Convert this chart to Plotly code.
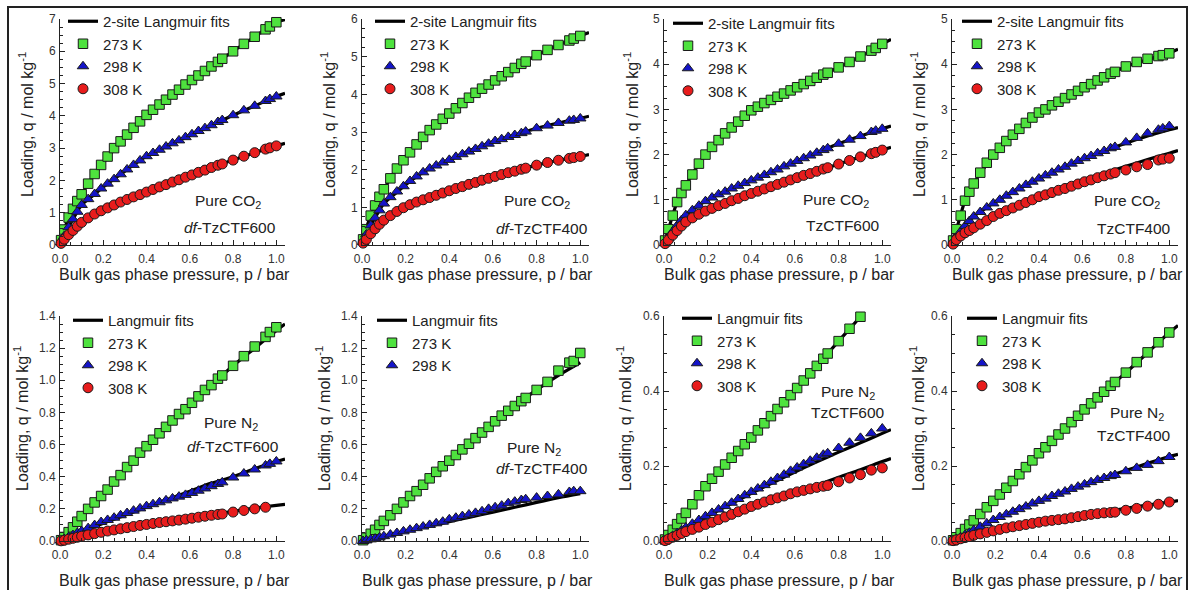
import plotly.graph_objects as go

W, H = 1194, 590
FONT = "Liberation Sans, Arial, sans-serif"

# ---------------- data ----------------
P = [0.005, 0.02, 0.04, 0.06, 0.08, 0.10, 0.13, 0.16, 0.19, 0.22, 0.25, 0.28, 0.31, 0.34, 0.37,
     0.40, 0.43, 0.46, 0.49, 0.52, 0.55, 0.58, 0.61, 0.64, 0.67, 0.70, 0.73, 0.75, 0.80, 0.85,
     0.90, 0.95, 0.97, 1.00]

FX_CO2 = [0, 0.01, 0.03, 0.06, 0.1, 0.15, 0.2, 0.3, 0.4, 0.5, 0.6, 0.7, 0.8, 0.9, 1.0, 1.04]
FX_N2 = [0, 0.1, 0.2, 0.3, 0.4, 0.5, 0.6, 0.7, 0.8, 0.9, 1.0, 1.04]
FX_N2_b = [0, 0.1, 0.2, 0.3, 0.4, 0.5, 0.6, 0.7, 0.8, 0.9, 1.0]
FX_N2_c = [0, 0.1, 0.2, 0.3, 0.4, 0.5, 0.6, 0.7, 0.8, 0.9, 0.92]

# Panel 1: CO2, df-TzCTF600
q1_273 = [0.15, 0.48, 0.85, 1.12, 1.36, 1.57, 1.9, 2.2, 2.48, 2.74, 3.0, 3.21, 3.42, 3.63, 3.83, 4.03, 4.19,
          4.35, 4.5, 4.66, 4.81, 4.97, 5.11, 5.25, 5.39, 5.53, 5.67, 5.77, 6.0, 6.23, 6.45, 6.68, 6.77, 6.9]
q1_298 = [0.08, 0.28, 0.55, 0.8, 1.03, 1.24, 1.42, 1.58, 1.75, 1.9, 2.04, 2.19, 2.34, 2.48, 2.62, 2.75, 2.85,
          2.95, 3.05, 3.15, 3.24, 3.34, 3.43, 3.53, 3.62, 3.71, 3.81, 3.87, 4.02, 4.17, 4.31, 4.46, 4.52, 4.6]
q1_308 = [0.05, 0.18, 0.32, 0.45, 0.58, 0.7, 0.84, 0.96, 1.06, 1.15, 1.24, 1.33, 1.41, 1.49, 1.56, 1.64, 1.72,
          1.8, 1.87, 1.95, 2.02, 2.1, 2.17, 2.25, 2.32, 2.4, 2.47, 2.51, 2.63, 2.75, 2.86, 2.97, 3.01, 3.07]
f1_273 = [0, 0.26, 0.67, 1.12, 1.57, 2.1, 2.55, 3.35, 4.03, 4.55, 5.06, 5.53, 6.0, 6.45, 6.9, 6.98]
f1_298 = [0, 0.14, 0.42, 0.8, 1.24, 1.52, 1.8, 2.29, 2.75, 3.08, 3.4, 3.71, 4.02, 4.31, 4.6, 4.7]
f1_308 = [0, 0.09, 0.26, 0.45, 0.7, 0.9, 1.1, 1.38, 1.64, 1.9, 2.15, 2.4, 2.63, 2.86, 3.07, 3.15]

# Panel 2: CO2, df-TzCTF400
q2_273 = [0.15, 0.42, 0.78, 1.05, 1.28, 1.48, 1.77, 2.03, 2.25, 2.46, 2.67, 2.87, 3.05, 3.2, 3.35, 3.49, 3.63,
          3.77, 3.91, 4.04, 4.15, 4.26, 4.37, 4.48, 4.59, 4.7, 4.81, 4.87, 5.04, 5.18, 5.31, 5.43, 5.48, 5.55]
q2_298 = [0.08, 0.28, 0.52, 0.72, 0.92, 1.1, 1.27, 1.42, 1.56, 1.7, 1.82, 1.93, 2.03, 2.11, 2.19, 2.26, 2.34,
          2.41, 2.48, 2.55, 2.62, 2.69, 2.76, 2.81, 2.87, 2.92, 2.97, 3.01, 3.1, 3.17, 3.24, 3.3, 3.32, 3.36]
q2_308 = [0.05, 0.15, 0.3, 0.43, 0.55, 0.66, 0.78, 0.89, 0.99, 1.07, 1.14, 1.2, 1.26, 1.32, 1.38, 1.44, 1.5,
          1.55, 1.61, 1.66, 1.72, 1.77, 1.82, 1.87, 1.92, 1.96, 2.01, 2.04, 2.12, 2.19, 2.25, 2.3, 2.32, 2.35]
f2_273 = [0, 0.25, 0.62, 1.05, 1.48, 1.95, 2.35, 3.0, 3.49, 3.98, 4.34, 4.7, 5.04, 5.31, 5.55, 5.64]
f2_298 = [0, 0.15, 0.42, 0.72, 1.1, 1.35, 1.6, 2.0, 2.26, 2.52, 2.74, 2.92, 3.1, 3.24, 3.36, 3.42]
f2_308 = [0, 0.08, 0.24, 0.43, 0.66, 0.85, 1.03, 1.24, 1.44, 1.63, 1.81, 1.96, 2.12, 2.25, 2.35, 2.4]

# Panel 3: CO2, TzCTF600
q3_273 = [0.1, 0.35, 0.65, 0.95, 1.15, 1.32, 1.56, 1.8, 2.0, 2.17, 2.32, 2.47, 2.6, 2.73, 2.86, 2.98, 3.06,
          3.14, 3.21, 3.28, 3.35, 3.42, 3.49, 3.56, 3.63, 3.7, 3.77, 3.81, 3.93, 4.05, 4.17, 4.3, 4.36, 4.45]
q3_298 = [0.04, 0.15, 0.3, 0.43, 0.55, 0.66, 0.77, 0.87, 0.97, 1.05, 1.12, 1.18, 1.25, 1.31, 1.37, 1.43, 1.49,
          1.55, 1.61, 1.67, 1.74, 1.8, 1.86, 1.92, 1.98, 2.04, 2.1, 2.14, 2.24, 2.33, 2.41, 2.5, 2.53, 2.57]
q3_308 = [0.03, 0.11, 0.22, 0.32, 0.42, 0.51, 0.6, 0.68, 0.75, 0.81, 0.87, 0.92, 0.98, 1.03, 1.09, 1.14, 1.19,
          1.24, 1.29, 1.34, 1.39, 1.44, 1.49, 1.54, 1.58, 1.63, 1.68, 1.71, 1.79, 1.87, 1.95, 2.02, 2.05, 2.1]
f3_273 = [0, 0.18, 0.5, 0.95, 1.32, 1.72, 2.05, 2.55, 2.98, 3.23, 3.46, 3.7, 3.93, 4.17, 4.45, 4.55]
f3_298 = [0, 0.08, 0.23, 0.43, 0.66, 0.85, 1.0, 1.23, 1.43, 1.64, 1.84, 2.04, 2.24, 2.41, 2.57, 2.63]
f3_308 = [0, 0.06, 0.17, 0.32, 0.51, 0.65, 0.77, 0.97, 1.14, 1.31, 1.47, 1.63, 1.79, 1.95, 2.1, 2.16]

# Panel 4: CO2, TzCTF400
q4_273 = [0.1, 0.35, 0.65, 0.98, 1.18, 1.36, 1.6, 1.82, 2.0, 2.15, 2.3, 2.44, 2.57, 2.7, 2.82, 2.93, 3.0,
          3.09, 3.17, 3.25, 3.33, 3.41, 3.49, 3.56, 3.64, 3.71, 3.79, 3.83, 3.95, 4.05, 4.12, 4.18, 4.2, 4.24]
q4_298 = [0.04, 0.15, 0.3, 0.42, 0.53, 0.63, 0.73, 0.83, 0.92, 1.0, 1.09, 1.17, 1.25, 1.33, 1.4, 1.47, 1.54,
          1.6, 1.67, 1.73, 1.8, 1.86, 1.92, 1.97, 2.03, 2.08, 2.14, 2.17, 2.27, 2.37, 2.47, 2.55, 2.58, 2.63]
q4_308 = [0.02, 0.12, 0.2, 0.27, 0.32, 0.38, 0.46, 0.54, 0.63, 0.7, 0.76, 0.82, 0.88, 0.94, 1.0, 1.07, 1.11,
          1.16, 1.21, 1.25, 1.3, 1.35, 1.4, 1.44, 1.49, 1.53, 1.57, 1.6, 1.66, 1.73, 1.78, 1.88, 1.9, 1.92]
f4_273 = [0, 0.18, 0.5, 0.98, 1.36, 1.72, 2.07, 2.55, 2.93, 3.22, 3.47, 3.71, 3.95, 4.1, 4.25, 4.33]
f4_298 = [0, 0.08, 0.23, 0.42, 0.63, 0.8, 0.96, 1.23, 1.47, 1.69, 1.9, 2.08, 2.25, 2.41, 2.55, 2.6]
f4_308 = [0, 0.05, 0.15, 0.28, 0.42, 0.55, 0.68, 0.9, 1.1, 1.28, 1.44, 1.59, 1.74, 1.89, 2.03, 2.09]

# Panel 5: N2, df-TzCTF600
q5_273 = [0.005, 0.025, 0.055, 0.085, 0.12, 0.155, 0.2, 0.24, 0.28, 0.32, 0.37, 0.41, 0.46, 0.5, 0.55, 0.59,
          0.63, 0.67, 0.71, 0.75, 0.79, 0.82, 0.86, 0.9, 0.94, 0.97, 1.01, 1.03, 1.09, 1.15, 1.21, 1.27, 1.3, 1.33]
q5_298 = [0.003, 0.012, 0.025, 0.037, 0.05, 0.062, 0.08, 0.099, 0.118, 0.131, 0.145, 0.16, 0.174, 0.189,
          0.203, 0.217, 0.229, 0.241, 0.253, 0.265, 0.276, 0.287, 0.299, 0.313, 0.327, 0.341, 0.355, 0.365,
          0.395, 0.42, 0.445, 0.47, 0.48, 0.495]
q5_308 = [0.001, 0.005, 0.011, 0.017, 0.023, 0.03, 0.038, 0.046, 0.054, 0.062, 0.069, 0.076, 0.083, 0.09,
          0.097, 0.103, 0.109, 0.115, 0.12, 0.125, 0.13, 0.136, 0.142, 0.148, 0.154, 0.16, 0.165, 0.168,
          0.18, 0.19, 0.2, 0.21, None, None]
f5_273 = [0, 0.15, 0.29, 0.44, 0.58, 0.72, 0.85, 0.97, 1.09, 1.2, 1.31, 1.35]
f5_298 = [0, 0.055, 0.11, 0.16, 0.21, 0.26, 0.31, 0.36, 0.4, 0.45, 0.495, 0.51]
f5_308 = [0, 0.025, 0.05, 0.075, 0.1, 0.12, 0.14, 0.165, 0.185, 0.205, 0.222, 0.228]

# Panel 6: N2, df-TzCTF400
q6_273 = [0.005, 0.02, 0.045, 0.07, 0.1, 0.125, 0.16, 0.2, 0.24, 0.28, 0.31, 0.35, 0.39, 0.43, 0.465, 0.5,
          0.535, 0.57, 0.605, 0.64, 0.675, 0.71, 0.745, 0.78, 0.81, 0.84, 0.87, 0.89, 0.94, 0.99, 1.06, 1.11,
          1.12, 1.17]
q6_298 = [0.0, 0.004, 0.01, 0.015, 0.022, 0.03, 0.04, 0.05, 0.06, 0.07, 0.08, 0.09, 0.1, 0.11, 0.12, 0.135,
          0.145, 0.155, 0.165, 0.175, 0.185, 0.2, 0.21, 0.22, 0.235, 0.245, 0.255, 0.26, 0.27, 0.28, 0.29,
          0.305, 0.31, 0.31]
f6_273 = [0, 0.12, 0.245, 0.37, 0.49, 0.61, 0.73, 0.84, 0.94, 1.03, 1.11]
f6_298 = [0, 0.03, 0.06, 0.09, 0.12, 0.15, 0.18, 0.21, 0.24, 0.27, 0.295]

# Panel 7: N2, TzCTF600
q7_273 = [0.004, 0.016, 0.03, 0.045, 0.06, 0.075, 0.098, 0.122, 0.146, 0.166, 0.185, 0.204, 0.222, 0.24,
          0.258, 0.276, 0.295, 0.314, 0.333, 0.352, 0.37, 0.389, 0.408, 0.428, 0.447, 0.467, 0.486, 0.5,
          0.533, 0.566, 0.598, None, None, None]
q7_298 = [0.002, 0.007, 0.014, 0.021, 0.028, 0.036, 0.046, 0.056, 0.066, 0.075, 0.084, 0.093, 0.102, 0.112,
          0.122, 0.131, 0.14, 0.149, 0.158, 0.168, 0.177, 0.187, 0.196, 0.205, 0.214, 0.222, 0.23, 0.234,
          0.248, 0.262, 0.275, 0.287, None, 0.3]
q7_308 = [0.001, 0.005, 0.01, 0.015, 0.02, 0.025, 0.031, 0.037, 0.044, 0.05, 0.057, 0.064, 0.071, 0.078,
          0.085, 0.092, 0.098, 0.104, 0.11, 0.115, 0.12, 0.126, 0.131, 0.135, 0.139, 0.143, 0.146, 0.148,
          0.158, 0.168, 0.177, 0.189, None, 0.195]
f7_273 = [0, 0.075, 0.152, 0.215, 0.276, 0.34, 0.402, 0.467, 0.533, 0.598, 0.612]
f7_298 = [0, 0.034, 0.066, 0.097, 0.127, 0.156, 0.184, 0.211, 0.237, 0.262, 0.287, 0.297]
f7_308 = [0, 0.021, 0.042, 0.063, 0.085, 0.106, 0.127, 0.148, 0.17, 0.19, 0.212, 0.22]

# Panel 8: N2, TzCTF400
q8_273 = [0.002, 0.01, 0.021, 0.032, 0.044, 0.055, 0.072, 0.09, 0.107, 0.124, 0.142, 0.16, 0.178, 0.197,
          0.215, 0.234, 0.25, 0.267, 0.284, 0.3, 0.317, 0.334, 0.351, 0.367, 0.383, 0.398, 0.414, 0.424,
          0.449, 0.477, 0.503, 0.53, None, 0.556]
q8_298 = [0.001, 0.005, 0.01, 0.016, 0.022, 0.029, 0.038, 0.047, 0.056, 0.064, 0.071, 0.078, 0.085, 0.092,
          0.1, 0.107, 0.113, 0.12, 0.126, 0.132, 0.139, 0.145, 0.151, 0.157, 0.163, 0.168, 0.173, 0.176,
          0.186, 0.195, 0.203, 0.213, None, 0.224]
q8_308 = [0.001, 0.003, 0.006, 0.009, 0.012, 0.015, 0.019, 0.023, 0.027, 0.031, 0.035, 0.038, 0.041, 0.044,
          0.047, 0.05, 0.053, 0.055, 0.057, 0.059, 0.062, 0.065, 0.068, 0.071, 0.073, 0.075, 0.076, 0.077,
          0.082, 0.087, 0.093, 0.098, None, 0.104]
f8_273 = [0, 0.055, 0.115, 0.176, 0.234, 0.29, 0.343, 0.398, 0.449, 0.502, 0.556, 0.575]
f8_298 = [0, 0.029, 0.058, 0.085, 0.107, 0.129, 0.15, 0.169, 0.188, 0.207, 0.225, 0.231]
f8_308 = [0, 0.014, 0.027, 0.039, 0.05, 0.06, 0.069, 0.078, 0.087, 0.096, 0.104, 0.108]

temps = ["273 K", "298 K", "308 K"]

# ---------------- styling ----------------
MARK = {
    "273 K": dict(symbol="square", size=9.5, color="#4ee23e", line=dict(color="#1a1a1a", width=1)),
    "298 K": dict(symbol="triangle-up", size=10, color="#1414c8", line=dict(color="#1a1a1a", width=1)),
    "308 K": dict(symbol="circle", size=10, color="#e81c1c", line=dict(color="#1a1a1a", width=1)),
}

def px_x(v):
    return v / W

def px_y(v):
    return 1 - v / H

COLS = [(60, 285), (362, 589), (664, 891), (952, 1178)]
ROWS = [(19, 245), (316, 541)]

panels = [
    dict(gas="CO<sub>2</sub>", mat="<i>df</i>-TzCTF600", ymax=7, dt=1, mdt=0.25, fmt="d",
         fit="2-site Langmuir fits", fx=[FX_CO2] * 3, series=[q1_273, q1_298, q1_308], fits=[f1_273, f1_298, f1_308],
         leg=(63, 5), ytitle_x=26, txt=[(228, 202), (230, 227)]),
    dict(gas="CO<sub>2</sub>", mat="<i>df</i>-TzCTF400", ymax=6, dt=1, mdt=0.25, fmt="d",
         fit="2-site Langmuir fits", fx=[FX_CO2] * 3, series=[q2_273, q2_298, q2_308], fits=[f2_273, f2_298, f2_308],
         leg=(370, 5), ytitle_x=328, txt=[(537, 202), (542, 228)]),
    dict(gas="CO<sub>2</sub>", mat="TzCTF600", ymax=5, dt=1, mdt=0.25, fmt="d",
         fit="2-site Langmuir fits", fx=[FX_CO2] * 3, series=[q3_273, q3_298, q3_308], fits=[f3_273, f3_298, f3_308],
         leg=(668, 7), ytitle_x=631, txt=[(836, 200), (843, 225)]),
    dict(gas="CO<sub>2</sub>", mat="TzCTF400", ymax=5, dt=1, mdt=0.25, fmt="d",
         fit="2-site Langmuir fits", fx=[FX_CO2] * 3, series=[q4_273, q4_298, q4_308], fits=[f4_273, f4_298, f4_308],
         leg=(957, 5), ytitle_x=918, txt=[(1127, 201), (1134, 228)]),
    dict(gas="N<sub>2</sub>", mat="<i>df</i>-TzCTF600", ymax=1.4, dt=0.2, mdt=0.05, fmt=".1f",
         fit="Langmuir fits", fx=[FX_N2] * 3, series=[q5_273, q5_298, q5_308], fits=[f5_273, f5_298, f5_308],
         leg=(68, 304), ytitle_x=21, txt=[(231, 423), (233, 446)]),
    dict(gas="N<sub>2</sub>", mat="<i>df</i>-TzCTF400", ymax=1.4, dt=0.2, mdt=0.05, fmt=".1f",
         fit="Langmuir fits", fx=[FX_N2_b] * 2, series=[q6_273, q6_298], fits=[f6_273, f6_298],
         leg=(372, 304), ytitle_x=323, txt=[(534, 448), (542, 468)]),
    dict(gas="N<sub>2</sub>", mat="TzCTF600", ymax=0.6, dt=0.2, mdt=0.05, fmt=".1f",
         fit="Langmuir fits", fx=[FX_N2_c, FX_N2, FX_N2], series=[q7_273, q7_298, q7_308], fits=[f7_273, f7_298, f7_308],
         leg=(677, 302), ytitle_x=624, txt=[(848, 392), (848, 412)]),
    dict(gas="N<sub>2</sub>", mat="TzCTF400", ymax=0.6, dt=0.2, mdt=0.05, fmt=".1f",
         fit="Langmuir fits", fx=[FX_N2] * 3, series=[q8_273, q8_298, q8_308], fits=[f8_273, f8_298, f8_308],
         leg=(962, 302), ytitle_x=917, txt=[(1137, 413), (1134, 435)]),
]

fig = go.Figure()
layout = dict(
    width=W, height=H, margin=dict(l=0, r=0, t=0, b=0, autoexpand=False),
    paper_bgcolor="white", plot_bgcolor="white",
    font=dict(family=FONT, color="#222"),
    hovermode=False,
)
annotations = []
axis_line = "#222"

for k, pnl in enumerate(panels, start=1):
    sfx = "" if k == 1 else str(k)
    xa, ya = "x" + sfx, "y" + sfx
    leg_name = "legend" + sfx
    col = COLS[(k - 1) % 4]
    row = ROWS[(k - 1) // 4]
    for j, (fx, fy) in enumerate(zip(pnl["fx"], pnl["fits"])):
        fig.add_trace(go.Scatter(
            x=fx, y=fy, mode="lines", line=dict(color="black", width=3.2, shape="spline", smoothing=0.8),
            name=pnl["fit"], showlegend=(j == 0), legend=leg_name, xaxis=xa, yaxis=ya))
    for t, q in zip(temps, pnl["series"]):
        fig.add_trace(go.Scatter(
            x=P, y=q, mode="markers", marker=MARK[t], name=t, legend=leg_name,
            xaxis=xa, yaxis=ya, cliponaxis=False))

    tickfont = dict(family=FONT, size=12, color="#333")
    layout["xaxis" + sfx] = dict(
        domain=[px_x(col[0]), px_x(col[1])], anchor=ya, range=[0, 1.04],
        tick0=0, dtick=0.2, tickformat=".1f", ticks="inside", ticklen=5, tickwidth=1, tickcolor=axis_line,
        minor=dict(dtick=0.05, tick0=0, ticks="inside", ticklen=3, tickcolor=axis_line, tickwidth=1),
        showline=True, linecolor=axis_line, linewidth=1, showgrid=False, zeroline=False,
        tickfont=tickfont, ticklabelstandoff=3, fixedrange=True)
    layout["yaxis" + sfx] = dict(
        domain=[px_y(row[1]), px_y(row[0])], anchor=xa, range=[0, pnl["ymax"]],
        tick0=0, dtick=pnl["dt"], tickformat=pnl["fmt"], ticks="inside", ticklen=5, tickwidth=1,
        tickcolor=axis_line,
        minor=dict(dtick=pnl["mdt"], tick0=0, ticks="inside", ticklen=3, tickcolor=axis_line, tickwidth=1),
        showline=True, linecolor=axis_line, linewidth=1, showgrid=False, zeroline=False,
        tickfont=tickfont, ticklabelstandoff=1, fixedrange=True)
    layout[leg_name] = dict(
        x=px_x(pnl["leg"][0]), y=px_y(pnl["leg"][1]), xanchor="left", yanchor="top",
        bgcolor="rgba(0,0,0,0)", borderwidth=0, tracegroupgap=0,
        font=dict(family=FONT, size=15, color="#222"), itemclick=False, itemdoubleclick=False)

    xt_y = 274 if k <= 4 else 580
    yt_y = 125 if k <= 4 else 419
    annotations.append(dict(
        text="Bulk gas phase pressure, p / bar", x=px_x((col[0] + col[1]) / 2 + 2), y=px_y(xt_y),
        xref="paper", yref="paper", showarrow=False, xanchor="center", yanchor="middle",
        font=dict(family=FONT, size=16, color="#222")))
    annotations.append(dict(
        text="Loading, q / mol kg<sup>-1</sup>", x=px_x(pnl["ytitle_x"]), y=px_y(yt_y),
        xref="paper", yref="paper", showarrow=False, textangle=-90, xanchor="center", yanchor="middle",
        font=dict(family=FONT, size=16, color="#222")))
    (gx, gy), (mx, my) = pnl["txt"]
    annotations.append(dict(
        text="Pure " + pnl["gas"], x=px_x(gx), y=px_y(gy), xref="paper", yref="paper",
        showarrow=False, xanchor="center", yanchor="middle", font=dict(family=FONT, size=15.5, color="#222")))
    annotations.append(dict(
        text=pnl["mat"], x=px_x(mx), y=px_y(my), xref="paper", yref="paper",
        showarrow=False, xanchor="center", yanchor="middle", font=dict(family=FONT, size=15.5, color="#222")))

layout["annotations"] = annotations
layout["shapes"] = [dict(
    type="rect", xref="paper", yref="paper", x0=px_x(8), x1=px_x(1187), y0=-0.05, y1=px_y(7),
    line=dict(color="#222", width=2), fillcolor="rgba(0,0,0,0)", layer="above")]

fig.update_layout(**layout)
fig.write_html("out.html")
